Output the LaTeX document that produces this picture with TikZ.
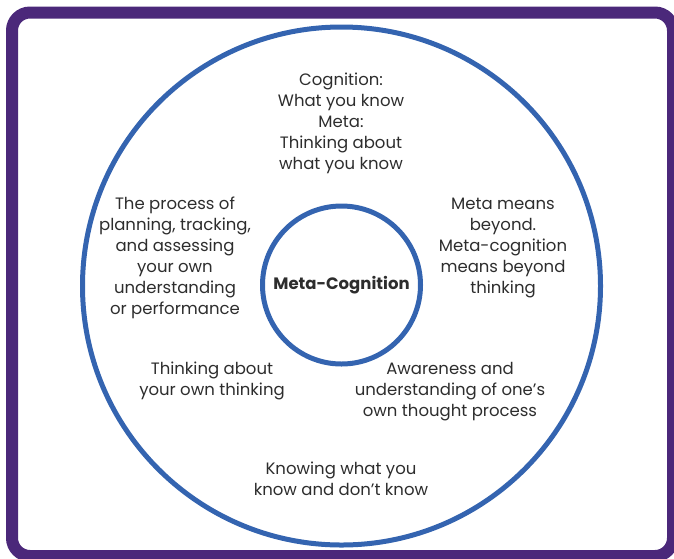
\documentclass[tikz,border=0pt]{standalone}
\usepackage{fontspec}
\setmainfont{Poppins}
\usetikzlibrary{positioning}

\definecolor{framepurple}{RGB}{75,40,122}
\definecolor{ringblue}{RGB}{52,100,176}
\definecolor{textgray}{RGB}{45,45,45}

\begin{document}
\begin{tikzpicture}[
    x=1pt, y=-1pt,
    % Styles
    ring/.style={
        circle,
        draw=ringblue,
        line width=5pt,
        inner sep=0pt
    },
    blurb/.style={
        align=center,
        text=textgray,
        font=\fontsize{16.5}{21}\selectfont
    }
]
\useasboundingbox (0,0) rectangle (674,558);

% Outer frame
\draw[framepurple, line width=12pt, rounded corners=18pt] (12,12.5) rectangle (673,556);

% Rings
\node[ring, minimum size=518pt] (outer) at (341.5,286) {};
\node[ring, minimum size=158pt, font=\fontsize{16.5}{20}\selectfont\bfseries, text=textgray] (inner) at (341.5,285) {Meta-Cognition};

% Text around the centre
\node[blurb] (cognition) at (341,123) {Cognition:\\What you know\\Meta:\\Thinking about\\what you know};
\node[blurb] (process) at (175,258) {The process of\\planning, tracking,\\and assessing\\your own\\understanding\\or performance};
\node[blurb] (beyond) at (503,248) {Meta means\\beyond.\\Meta-cognition\\means beyond\\thinking};
\node[blurb] (thinking) at (212,381) {Thinking about\\your own thinking};
\node[blurb] (awareness) at (450,392) {Awareness and\\understanding of one’s\\own thought process};
\node[blurb] (knowing) at (341,479) {Knowing what you\\know and don’t know};

\end{tikzpicture}
\end{document}
